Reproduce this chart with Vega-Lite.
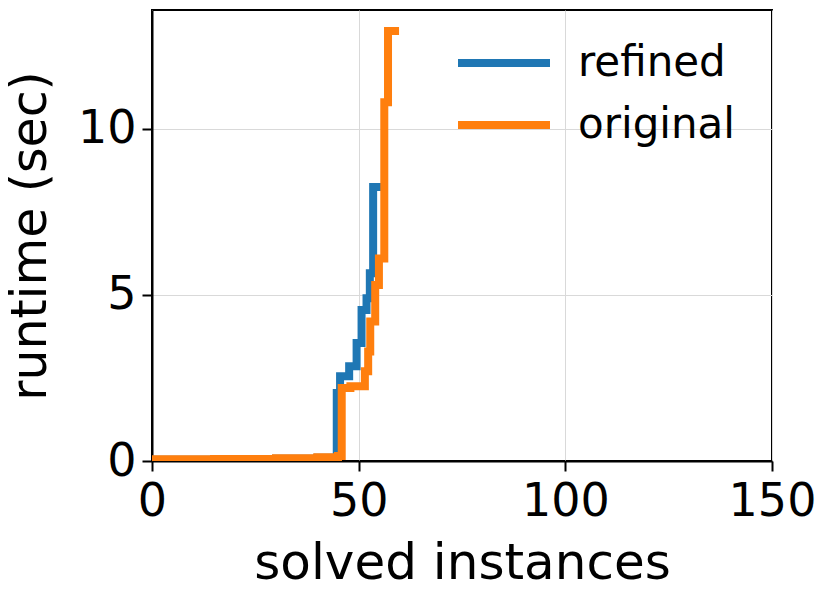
{
  "$schema": "https://vega.github.io/schema/vega-lite/v6.json",
  "width": 620,
  "height": 451,
  "autosize": "none",
  "padding": {"left": 152, "top": 10, "right": 58, "bottom": 139},
  "background": "white",
  "config": {
    "font": "DejaVu Sans",
    "view": {"stroke": "black", "strokeWidth": 2},
    "axis": {
      "domainColor": "black", "domainWidth": 2,
      "tickColor": "black", "tickWidth": 2, "tickSize": 10,
      "labelColor": "black", "titleColor": "black",
      "gridColor": "#d9d9d9", "gridWidth": 1,
      "labelFont": "DejaVu Sans", "titleFont": "DejaVu Sans",
      "labelFontSize": 46, "titleFontWeight": "normal",
      "labelFlush": false, "labelOverlap": false, "labelBound": false
    },
    "legend": {"labelFont": "DejaVu Sans", "labelColor": "black"}
  },
  "datasets": {
    "runs": [
      {"solver": "refined", "n": 0, "runtime": 0.04},
      {"solver": "refined", "n": 15, "runtime": 0.05},
      {"solver": "refined", "n": 30, "runtime": 0.07},
      {"solver": "refined", "n": 40, "runtime": 0.1},
      {"solver": "refined", "n": 44.7, "runtime": 2.05},
      {"solver": "refined", "n": 45.5, "runtime": 2.55},
      {"solver": "refined", "n": 47.7, "runtime": 2.85},
      {"solver": "refined", "n": 49.5, "runtime": 3.55},
      {"solver": "refined", "n": 50.7, "runtime": 4.55},
      {"solver": "refined", "n": 51.9, "runtime": 4.9},
      {"solver": "refined", "n": 52.7, "runtime": 5.65},
      {"solver": "refined", "n": 53.5, "runtime": 8.25},
      {"solver": "refined", "n": 55, "runtime": 8.25},
      {"solver": "original", "n": 0, "runtime": 0.05},
      {"solver": "original", "n": 15, "runtime": 0.06},
      {"solver": "original", "n": 30, "runtime": 0.08},
      {"solver": "original", "n": 40, "runtime": 0.11},
      {"solver": "original", "n": 45, "runtime": 0.15},
      {"solver": "original", "n": 45.9, "runtime": 2.2},
      {"solver": "original", "n": 48, "runtime": 2.25},
      {"solver": "original", "n": 51.5, "runtime": 2.7},
      {"solver": "original", "n": 52.3, "runtime": 3.3},
      {"solver": "original", "n": 52.8, "runtime": 4.2},
      {"solver": "original", "n": 54, "runtime": 5.3},
      {"solver": "original", "n": 54.9, "runtime": 6.1},
      {"solver": "original", "n": 56.2, "runtime": 10.8},
      {"solver": "original", "n": 57.1, "runtime": 12.95},
      {"solver": "original", "n": 58.8, "runtime": 12.95}
    ]
  },
  "data": {"name": "runs"},
  "encoding": {
    "x": {
      "field": "n", "type": "quantitative",
      "scale": {"domain": [0, 150], "nice": false, "zero": false},
      "axis": {"values": [0, 50, 100, 150], "title": "solved instances", "titleFontSize": 50, "labelPadding": 8, "titlePadding": 14}
    },
    "y": {
      "field": "runtime", "type": "quantitative",
      "scale": {"domain": [0, 13.58], "nice": false, "zero": false},
      "axis": {"values": [0, 5, 10], "title": "runtime (sec)", "titleFontSize": 49, "labelPadding": 6, "titlePadding": 22}
    },
    "color": {
      "field": "solver", "type": "nominal",
      "scale": {"domain": ["refined", "original"], "range": ["#1f77b4", "#ff7f0e"]},
      "legend": {
        "title": null, "orient": "none", "legendX": 302, "legendY": 22,
        "symbolType": "stroke", "symbolSize": 8464, "symbolStrokeWidth": 8,
        "labelFontSize": 42, "labelOffset": 24, "rowPadding": 0, "clipHeight": 62
      }
    }
  },
  "layer": [
    {
      "transform": [{"filter": "datum.solver === 'refined'"}],
      "mark": {"type": "line", "interpolate": "step-after", "strokeWidth": 8, "strokeCap": "square", "clip": true}
    },
    {
      "transform": [{"filter": "datum.solver === 'original'"}],
      "mark": {"type": "line", "interpolate": "step-after", "strokeWidth": 8, "strokeCap": "square", "clip": true}
    }
  ]
}
